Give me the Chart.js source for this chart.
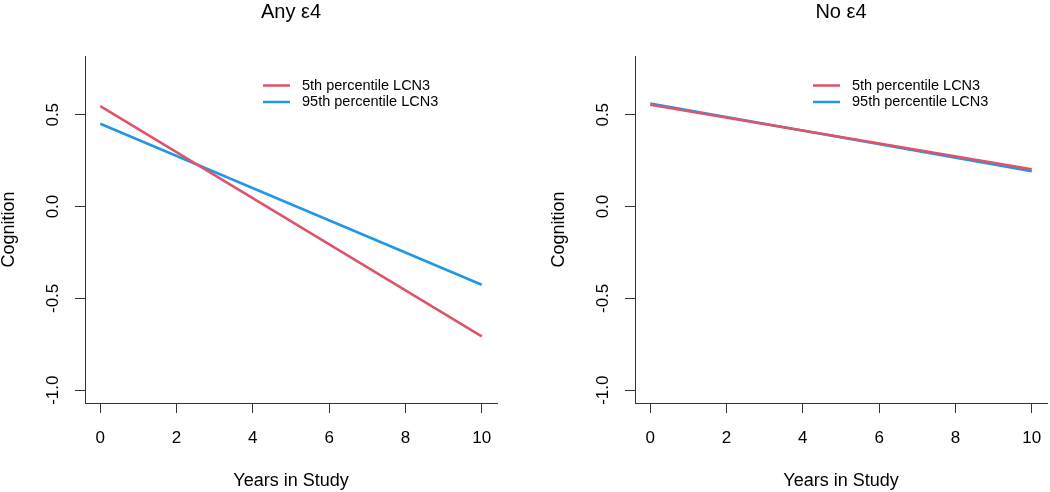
<!DOCTYPE html>
<html>
<head>
<meta charset="utf-8">
<script src="https://cdn.jsdelivr.net/npm/chart.js@4"></script>
<style>
  body { margin: 0; background: #fff; }
  .row { display: flex; width: 1050px; height: 492px; }
  canvas { display: block; }
</style>
</head>
<body>
<div class="row">
  <canvas id="left" width="525" height="492"></canvas>
  <canvas id="right" width="525" height="492"></canvas>
</div>
<script>
// dane
var years = [0, 10];
var anyE4Low = [0.547, -0.707];   // 5th percentile LCN3
var anyE4High = [0.451, -0.426];  // 95th percentile LCN3
var noE4Low = [0.554, 0.203];
var noE4High = [0.561, 0.192];

var xTicks = [0, 2, 4, 6, 8, 10];
var yTicks = [-1.0, -0.5, 0.0, 0.5];
var seriesNames = ['5th percentile LCN3', '95th percentile LCN3'];
var colors = ['#DF536B', '#2297E6'];

var FONT = '"Liberation Sans", Arial, sans-serif';
var AXIS = '#333';

function points(ys) {
    return years.map(function(x, i) { return { x: x, y: ys[i] }; });
}

// rysowanie tytulu, legendy i obroconych etykiet osi y (jak w R)
var rStyle = {
    id: 'rStyle',
    afterDraw: function(chart) {
        var ctx = chart.ctx, area = chart.chartArea;
        var y = chart.scales.y;
        ctx.save();
        ctx.fillStyle = '#000';

        // tytul
        ctx.font = '20px ' + FONT;
        ctx.textAlign = 'center';
        ctx.textBaseline = 'alphabetic';
        ctx.fillText(chart.options.plugins.rTitle, (area.left + area.right) / 2, 17.5);

        // etykiety osi y
        ctx.font = '17px ' + FONT;
        ctx.textBaseline = 'middle';
        yTicks.forEach(function(v) {
            ctx.save();
            ctx.translate(area.left - 32, y.getPixelForValue(v));
            ctx.rotate(-Math.PI / 2);
            ctx.fillText(v.toFixed(1), 0, 0);
            ctx.restore();
        });

        // legenda bez ramki
        ctx.font = '14.5px ' + FONT;
        ctx.textAlign = 'left';
        chart.data.datasets.forEach(function(ds, i) {
            var ly = 85.5 + i * 16.5;
            var lx = area.left + 178;
            ctx.strokeStyle = ds.borderColor;
            ctx.lineWidth = 2.5;
            ctx.beginPath();
            ctx.moveTo(lx, ly);
            ctx.lineTo(lx + 27, ly);
            ctx.stroke();
            ctx.fillStyle = '#000';
            ctx.fillText(ds.label, lx + 39, ly);
        });
        ctx.restore();
    }
};

function makeChart(id, title, low, high, padLeft, padRight) {
    var ctx = document.getElementById(id).getContext('2d');
    return new Chart(ctx, {
        type: 'line',
        data: {
            datasets: [
                { label: seriesNames[0], data: points(low), borderColor: colors[0], borderWidth: 2.5, pointRadius: 0, fill: false },
                { label: seriesNames[1], data: points(high), borderColor: colors[1], borderWidth: 2.5, pointRadius: 0, fill: false }
            ]
        },
        options: {
            responsive: false,
            animation: false,
            layout: { padding: { top: 56, right: padRight, bottom: 0, left: padLeft } },
            plugins: {
                legend: { display: false },
                tooltip: { enabled: false },
                rTitle: title
            },
            scales: {
                x: {
                    type: 'linear',
                    min: -0.4,
                    max: 10.4,
                    afterBuildTicks: function(s) { s.ticks = xTicks.map(function(v) { return { value: v }; }); },
                    afterFit: function(s) { s.height = 89; s.paddingLeft = 0; s.paddingRight = 0; },
                    border: { display: true, color: AXIS, width: 1 },
                    grid: { drawOnChartArea: false, drawTicks: true, tickLength: 10, color: AXIS },
                    ticks: { color: '#000', padding: 15, maxRotation: 0, font: { family: FONT, size: 17 } },
                    title: { display: true, text: 'Years in Study', color: '#000', padding: { top: 0, bottom: 2 }, font: { family: FONT, size: 18, lineHeight: 1 } }
                },
                y: {
                    min: -1.07,
                    max: 0.82,
                    afterBuildTicks: function(s) { s.ticks = yTicks.map(function(v) { return { value: v }; }); },
                    afterFit: function(s) { s.width = 85; s.paddingTop = 0; s.paddingBottom = 0; },
                    border: { display: true, color: AXIS, width: 1 },
                    grid: { drawOnChartArea: false, drawTicks: true, tickLength: 10, color: AXIS },
                    ticks: { display: false },
                    title: { display: true, text: 'Cognition', color: '#000', padding: 0, font: { family: FONT, size: 18, lineHeight: 1 } }
                }
            }
        },
        plugins: [rStyle]
    });
}

makeChart('left', 'Any \u03b54', anyE4Low, anyE4High, 0, 28);
makeChart('right', 'No \u03b54', noE4Low, noE4High, 25, 3);
</script>
</body>
</html>
